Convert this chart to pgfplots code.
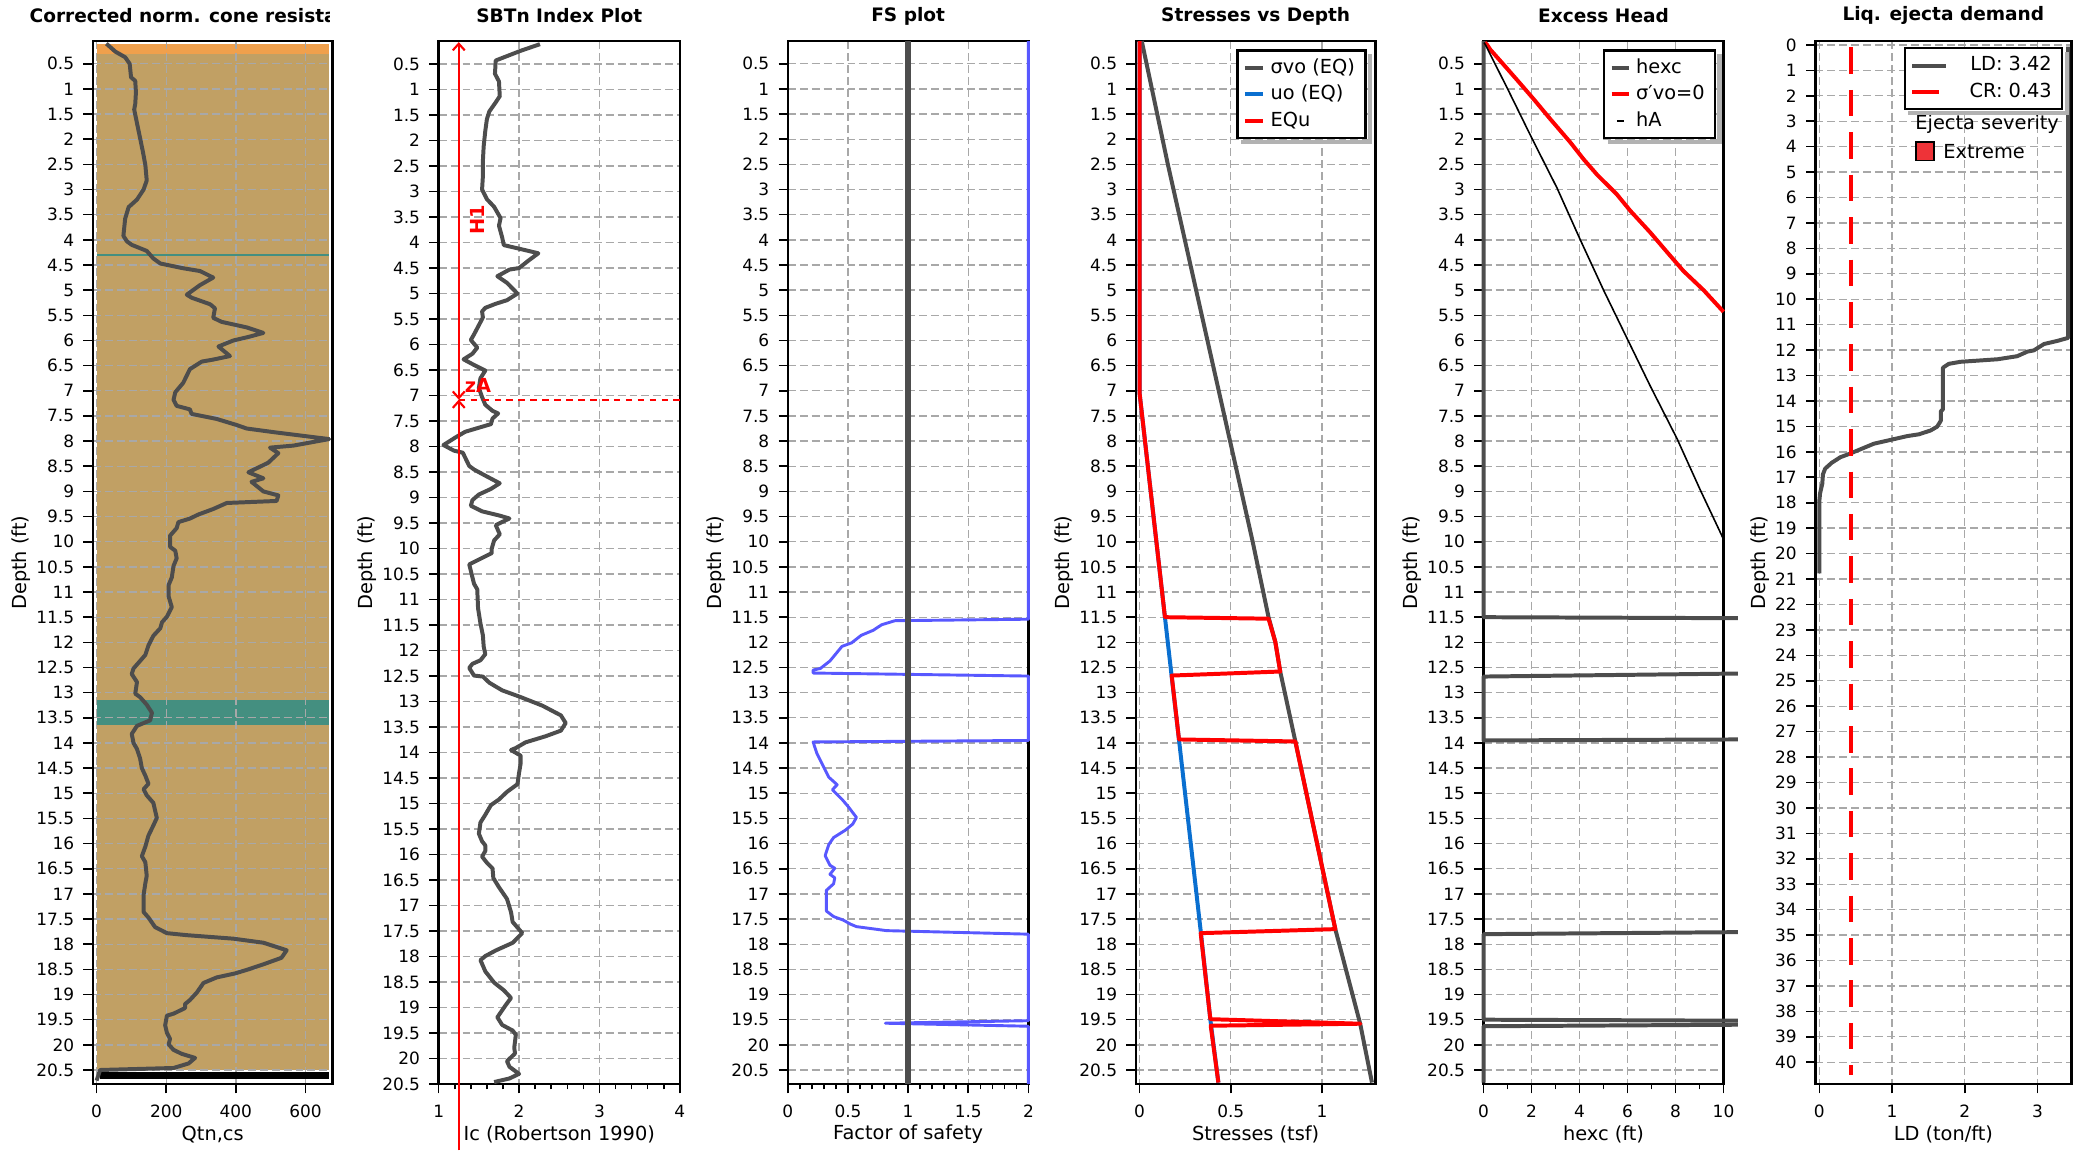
\documentclass[border=0pt]{standalone}
\usepackage{fontspec}
\setmainfont{DejaVu Sans}
\usepackage{pgfplots}
\pgfplotsset{compat=1.18}
\usetikzlibrary{arrows.meta}
\definecolor{dg}{HTML}{4D4D4D}
\definecolor{gridc}{HTML}{A8A8A8}
\definecolor{soiltan}{HTML}{C1A064}
\definecolor{soilorange}{HTML}{F0A04C}
\definecolor{soilteal}{HTML}{448F80}
\definecolor{fsblue}{HTML}{5858FF}
\definecolor{uoblue}{HTML}{0A6FD0}
\definecolor{exred}{HTML}{EE3338}

\newcommand{\legshadow}[1]{%
  \fill[black!30] ([xshift=0.4pt,yshift=-1.6pt]#1.north east) rectangle ([xshift=2pt,yshift=-2pt]#1.south east);
  \fill[black!30] ([xshift=1.6pt,yshift=-0.4pt]#1.south west) rectangle ([xshift=2pt,yshift=-2pt]#1.south east);}

\pgfplotsset{
  panel/.style={
    scale only axis, height=393.5pt, anchor=north west,
    y dir=reverse,
    axis line style={line width=0.9pt, black},
    grid=major,
    major grid style={gridc, line width=0.5pt, dash pattern=on 3pt off 1.5pt},
    tick align=outside, tick pos=left,
    major tick length=3.5pt, minor tick length=2pt,
    tick style={black, line width=0.6pt},
    /pgf/number format/assume math mode=true,
    tick label style={font=\fontsize{6.4}{7}\selectfont},
    xticklabel style={yshift=-1pt},
    label style={font=\fontsize{7.3}{8}\selectfont},
    xlabel style={at={([yshift=-19pt]axis description cs:0.5,0)}, anchor=center},
    ylabel style={at={([xshift=-27pt]axis description cs:0,0.5)}, anchor=center},
    title style={at={([yshift=3.5pt]axis description cs:0.5,1)}, anchor=center, font=\bfseries\fontsize{7}{8}\selectfont},
    ylabel={Depth (ft)},
    clip=false,
    every axis plot/.append style={line join=round},
    legend style={draw=black, line width=0.8pt, fill=white, font=\fontsize{7.3}{8}\selectfont,
      inner xsep=2pt, inner ysep=1pt, row sep=-1pt},
    legend cell align=left,
  },
  depth/.style={ymin=0.05, ymax=20.78, ytick distance=0.5},
}

\begin{document}
\begin{tikzpicture}

% ---------------- Panel 1 (soil fills) ----------------
\begin{axis}[scale only axis, height=393.5pt, width=90.5pt, anchor=north west, at={(35pt,-15.5pt)},
  y dir=reverse, xmin=-11, xmax=678, ymin=0.05, ymax=20.78, hide axis]
\addplot[fill=soilorange, draw=none] coordinates {(0,0.1) (667,0.1) (667,0.31) (0,0.31)} -- cycle;
\addplot[fill=soiltan, draw=none] coordinates {(0,0.31) (667,0.31) (667,20.49) (0,20.49)} -- cycle;
\addplot[fill=soilteal, draw=none] coordinates {(0,13.14) (667,13.14) (667,13.65) (0,13.65)} -- cycle;
\addplot[soilteal, line width=1pt] coordinates {(0,4.3) (667,4.3)};
\end{axis}
% ---------------- Panel 1 ----------------
\begin{axis}[panel, depth, at={(35pt,-15.5pt)}, width=90.5pt, xmin=-11, xmax=678,
  xtick distance=200, xlabel={Qtn,cs}]
\addplot[fill=black, draw=none] coordinates {(9,20.54) (667,20.54) (667,20.68) (9,20.68)} -- cycle;
\addplot[dg, line width=1.5pt] coordinates {
(28,0.1) (54,0.26) (82,0.37) (95,0.5) (99,0.77) (111,0.84) (113,1.07) (111,1.3) (108,1.41) (116,1.68) (125,1.98) (133,2.25) (140,2.51) (144,2.82) (135,3.0) (116,3.2) (92,3.35) (82,3.58) (77,3.92) (87,4.03) (101,4.1) (144,4.22) (163,4.37) (183,4.47) (245,4.56) (297,4.62) (335,4.75) (297,4.9) (259,5.09) (273,5.15) (326,5.28) (340,5.36) (335,5.55) (359,5.63) (431,5.74) (479,5.85) (436,5.93) (393,6.0) (350,6.12) (383,6.31) (335,6.38) (302,6.42) (268,6.57) (249,6.84) (226,7.03) (221,7.18) (230,7.3) (268,7.37) (273,7.46) (345,7.56) (402,7.68) (431,7.75) (517,7.83) (668,7.96) (565,8.09) (498,8.13) (522,8.24) (493,8.43) (436,8.62) (479,8.74) (445,8.81) (479,9.0) (522,9.08) (517,9.19) (374,9.23) (335,9.35) (292,9.46) (268,9.54) (235,9.61) (230,9.73) (211,9.88) (211,10.1) (226,10.18) (230,10.33) (221,10.48) (216,10.71) (207,10.86) (207,11.09) (216,11.3) (202,11.49) (188,11.6) (183,11.72) (163,11.87) (149,12.06) (140,12.25) (125,12.37) (116,12.44) (106,12.52) (101,12.63) (116,12.79) (111,13.02) (125,13.09) (144,13.24) (159,13.4) (154,13.55) (116,13.66) (101,13.82) (106,14.0) (116,14.12) (125,14.31) (130,14.5) (140,14.65) (149,14.81) (135,14.92) (144,15.04) (163,15.19) (173,15.49) (163,15.64) (149,15.84) (140,16.06) (130,16.25) (140,16.37) (144,16.64) (140,16.79) (135,17.02) (135,17.36) (149,17.47) (168,17.66) (202,17.78) (259,17.82) (393,17.89) (479,17.97) (546,18.12) (531,18.27) (483,18.39) (436,18.5) (398,18.58) (345,18.66) (307,18.77) (288,18.96) (268,19.11) (254,19.19) (254,19.27) (221,19.38) (202,19.42) (197,19.61) (202,19.76) (211,19.88) (207,19.99) (221,20.1) (245,20.18) (283,20.26) (264,20.37) (221,20.46) (10,20.5) (0,20.71)};
\end{axis}
\begin{scope}
\clip (0pt,0pt) rectangle (124.5pt,-15pt);
\node[font=\bfseries\fontsize{7}{8}\selectfont, anchor=west, inner sep=0pt] at (11pt,-6pt) {Corrected norm. cone resistance};
\end{scope}

% ---------------- Panel 2 ----------------
\begin{axis}[panel, at={(165.5pt,-15.5pt)}, width=91pt, xmin=1, xmax=4, ymin=0.05, ymax=20.5,
  ytick distance=0.5, xtick distance=1, minor x tick num=4,
  title={SBTn Index Plot}, xlabel={Ic (Robertson 1990)}]
\addplot[dg, line width=1.5pt] coordinates {
(2.26,0.11) (2.02,0.24) (1.71,0.43) (1.70,0.69) (1.75,0.84) (1.76,1.13) (1.71,1.25) (1.63,1.43) (1.60,1.58) (1.58,1.81) (1.56,2.11) (1.55,2.4) (1.55,2.7) (1.54,2.96) (1.60,3.15) (1.69,3.3) (1.77,3.52) (1.75,3.67) (1.79,3.9) (1.81,4.05) (2.0,4.12) (2.24,4.21) (2.12,4.35) (2.0,4.5) (1.88,4.53) (1.73,4.66) (1.85,4.79) (1.98,5.0) (1.85,5.13) (1.71,5.2) (1.58,5.28) (1.54,5.35) (1.55,5.47) (1.50,5.62) (1.44,5.8) (1.40,5.91) (1.48,6.06) (1.42,6.18) (1.31,6.29) (1.44,6.4) (1.58,6.51) (1.52,6.66) (1.50,6.85) (1.54,7.03) (1.58,7.18) (1.67,7.3) (1.74,7.35) (1.67,7.45) (1.65,7.56) (1.5,7.63) (1.33,7.71) (1.21,7.82) (1.06,7.97) (1.19,8.08) (1.30,8.12) (1.38,8.38) (1.44,8.45) (1.58,8.57) (1.76,8.72) (1.65,8.83) (1.5,8.94) (1.42,9.05) (1.40,9.16) (1.54,9.27) (1.75,9.35) (1.88,9.41) (1.71,9.54) (1.76,9.72) (1.69,9.84) (1.66,10.0) (1.66,10.09) (1.38,10.31) (1.44,10.69) (1.48,10.8) (1.49,11.17) (1.52,11.47) (1.55,11.7) (1.56,11.92) (1.58,12.07) (1.52,12.19) (1.42,12.26) (1.38,12.34) (1.44,12.49) (1.55,12.51) (1.63,12.63) (1.79,12.78) (2.0,12.9) (2.29,13.08) (2.52,13.27) (2.58,13.42) (2.52,13.57) (2.33,13.68) (2.08,13.8) (1.96,13.91) (1.90,13.95) (2.02,14.06) (2.02,14.21) (2.0,14.4) (1.98,14.62) (1.85,14.77) (1.75,14.92) (1.65,15.03) (1.58,15.22) (1.52,15.37) (1.5,15.59) (1.54,15.74) (1.58,15.82) (1.58,15.93) (1.54,16.04) (1.6,16.16) (1.67,16.27) (1.68,16.46) (1.75,16.64) (1.85,16.87) (1.90,17.13) (1.92,17.32) (2.04,17.54) (1.92,17.73) (1.71,17.88) (1.58,17.99) (1.52,18.07) (1.58,18.29) (1.69,18.51) (1.81,18.66) (1.90,18.81) (1.83,18.96) (1.73,19.19) (1.79,19.34) (1.92,19.45) (1.96,19.53) (1.94,19.79) (1.95,19.9) (1.85,20.05) (1.88,20.16) (2.0,20.3) (1.88,20.39) (1.69,20.46)};
\addplot[red, line width=0.8pt, dash pattern=on 2.5pt off 2pt] coordinates {(1.25,7.08) (4,7.08)};
\addplot[red, line width=0.8pt, {Straight Barb[length=2.5pt,width=4.5pt]}-{Straight Barb[length=2.5pt,width=4.5pt]}] coordinates {(1.25,0.07) (1.25,7.08)};
\addplot[red, line width=0.8pt, -{Straight Barb[length=2.5pt,width=4.5pt]}] coordinates {(1.25,21.8) (1.25,7.08)};
\node[red, font=\bfseries\fontsize{7.3}{8}\selectfont, rotate=90] at (axis cs:1.48,3.56) {H1};
\node[red, font=\bfseries\fontsize{7.3}{8}\selectfont] at (axis cs:1.49,6.81) {zA};
\end{axis}

% ---------------- Panel 3 ----------------
\begin{axis}[panel, depth, at={(297.25pt,-15.5pt)}, width=90.75pt, xmin=0, xmax=2,
  xtick distance=0.5, minor x tick num=4, title={FS plot}, xlabel={Factor of safety}]
\addplot[fsblue, line width=1.1pt] coordinates {
(2,0.05) (2,11.54) (0.89,11.57) (0.78,11.65) (0.71,11.76) (0.61,11.86) (0.53,12.01) (0.45,12.08) (0.35,12.37) (0.27,12.52) (0.21,12.55) (0.21,12.61) (2,12.67) (2,13.95) (0.21,13.98) (0.24,14.2) (0.30,14.49) (0.34,14.68) (0.41,14.83) (0.37,14.93) (0.45,15.12) (0.5,15.26) (0.57,15.48) (0.54,15.61) (0.48,15.73) (0.38,15.88) (0.34,16.02) (0.31,16.24) (0.35,16.43) (0.39,16.49) (0.35,16.61) (0.39,16.68) (0.38,16.8) (0.32,16.93) (0.32,17.34) (0.38,17.45) (0.46,17.52) (0.52,17.6) (0.57,17.65) (0.82,17.73) (2,17.8) (2,19.52) (0.81,19.57) (2,19.63) (2,20.78)};
\addplot[dg, line width=2pt] coordinates {(1,0.05) (1,20.78)};
\end{axis}

% ---------------- Panel 4 ----------------
\begin{axis}[panel, depth, at={(428.5pt,-15.5pt)}, width=90.5pt, xmin=-0.021, xmax=1.294,
  xtick distance=0.5, title={Stresses vs Depth}, xlabel={Stresses (tsf)},
  legend style={at={(0.962,0.992)}, anchor=north east, name=lg4},
  legend image code/.code={\draw[#1, line width=1.5pt] (0pt,0pt) -- (7pt,0pt);}]
\addplot[dg, line width=1.5pt] coordinates {
(0.012,0.05) (0.155,2.5) (0.31,5.0) (0.465,7.5) (0.62,10.0) (0.707,11.5) (0.744,11.99) (0.771,12.58) (0.854,13.97) (1.073,17.7) (1.21,19.59) (1.274,20.75)};
\addlegendentry{σvo (EQ)}
\addplot[uoblue, line width=1.5pt] coordinates {
(0,0.05) (0,7.05) (0.139,11.5) (0.175,12.65) (0.218,14.0) (0.337,17.8) (0.388,19.5) (0.432,20.75)};
\addlegendentry{uo (EQ)}
\addplot[red, line width=1.5pt] coordinates {
(0,0.05) (0,7.05) (0.139,11.5) (0.707,11.53) (0.744,11.99) (0.771,12.58) (0.176,12.66) (0.216,13.93) (0.854,13.97) (1.073,17.7) (0.335,17.78) (0.388,19.49) (1.21,19.58) (0.39,19.62) (0.432,20.75)};
\addlegendentry{EQu}
\end{axis}
\legshadow{lg4}

% ---------------- Panel 5 ----------------
\begin{axis}[panel, depth, at={(559.75pt,-15.5pt)}, width=90.5pt, xmin=0, xmax=10,
  xtick distance=2, minor x tick num=1, title={Excess Head}, xlabel={hexc (ft)},
  legend style={at={(0.97,0.992)}, anchor=north east, name=lg5},
  legend image code/.code={\draw[#1, line width=1.5pt] (0pt,0pt) -- (6.5pt,0pt);}]
\addplot[dg, line width=1.5pt] coordinates {(0,0.05) (0,11.5) (10.6,11.52)};
\addlegendentry{hexc}
\addplot[dg, line width=1.5pt, forget plot] coordinates {(10.6,12.62) (0,12.68) (0,13.95) (10.6,13.93)};
\addplot[dg, line width=1.5pt, forget plot] coordinates {(10.6,17.76) (0,17.8) (0,19.5) (10.6,19.52)};
\addplot[dg, line width=1.5pt, forget plot] coordinates {(10.6,19.6) (0,19.63) (0,20.75)};
\addplot[red, line width=1.5pt] coordinates {
(0.05,0.08) (0.14,0.12) (0.28,0.22) (0.69,0.44) (1.39,0.82) (2.08,1.2) (2.78,1.6) (3.61,2.06) (4.17,2.4) (4.72,2.7) (5.56,3.1) (6.11,3.42) (6.94,3.85) (7.64,4.24) (8.33,4.62) (9.17,5.0) (10,5.43)};
\addlegendentry{σ′vo=0}
\addplot[black, line width=0.6pt, legend image code/.code={\draw[black, line width=0.8pt] (2pt,0pt) -- (4.5pt,0pt);}] coordinates {
(0.02,0.08) (0.07,0.12) (1.0,1.0) (2.01,1.98) (3.06,2.97) (4.03,4.0) (5.0,5.0) (5.97,5.95) (6.94,6.9) (8.06,7.95) (9.03,8.97) (10,9.95)};
\addlegendentry{hA}
\end{axis}
\legshadow{lg5}

% ---------------- Panel 6 ----------------
\begin{axis}[panel, at={(684.9pt,-15.5pt)}, width=96.6pt, xmin=-0.055, xmax=3.466,
  ymin=-0.15, ymax=40.86, ytick distance=1, xtick distance=1,
  title={Liq. ejecta demand}, xlabel={LD (ton/ft)},
  ylabel style={at={([xshift=-21pt]axis description cs:0,0.5)}},
  legend style={at={(0.969,0.994)}, anchor=north east, name=lg6},
  legend cell align=right,
  legend image code/.code={\draw[#1] (0pt,0pt) -- (13pt,0pt);}]
\addplot[dg, line width=1.5pt] coordinates {
(3.42,0.07) (3.42,11.52) (3.27,11.64) (3.09,11.76) (2.95,12.01) (2.86,12.06) (2.72,12.24) (2.45,12.36) (1.94,12.46) (1.78,12.54) (1.70,12.69) (1.70,14.33) (1.67,14.41) (1.67,14.78) (1.62,15.01) (1.53,15.16) (1.37,15.31) (1.21,15.38) (0.98,15.53) (0.75,15.68) (0.43,16.06) (0.29,16.21) (0.17,16.43) (0.08,16.66) (0.05,16.88) (0.04,17.26) (0.01,17.63) (0,17.93) (0,20.78)};
\addlegendentry{\hspace{6pt}LD: 3.42}
\addplot[red, line width=1.5pt, dash pattern=on 10pt off 6pt] coordinates {(0.43,0.1) (0.43,40.5)};
\addlegendentry{\hspace{6pt}CR: 0.43}
\node[anchor=west, font=\fontsize{7.3}{8}\selectfont, inner sep=0pt] at (axis description cs:0.389,0.92) {Ejecta severity};
\draw[fill=exred, line width=0.6pt] (axis description cs:0.392,0.9035) rectangle ++(7pt,-7pt);
\node[anchor=west, font=\fontsize{7.3}{8}\selectfont, inner sep=0pt] at (axis description cs:0.498,0.8945) {Extreme};
\end{axis}
\legshadow{lg6}

\pgfresetboundingbox
\useasboundingbox (0pt,0pt) rectangle (784pt,-434.5pt);
\end{tikzpicture}
\end{document}
